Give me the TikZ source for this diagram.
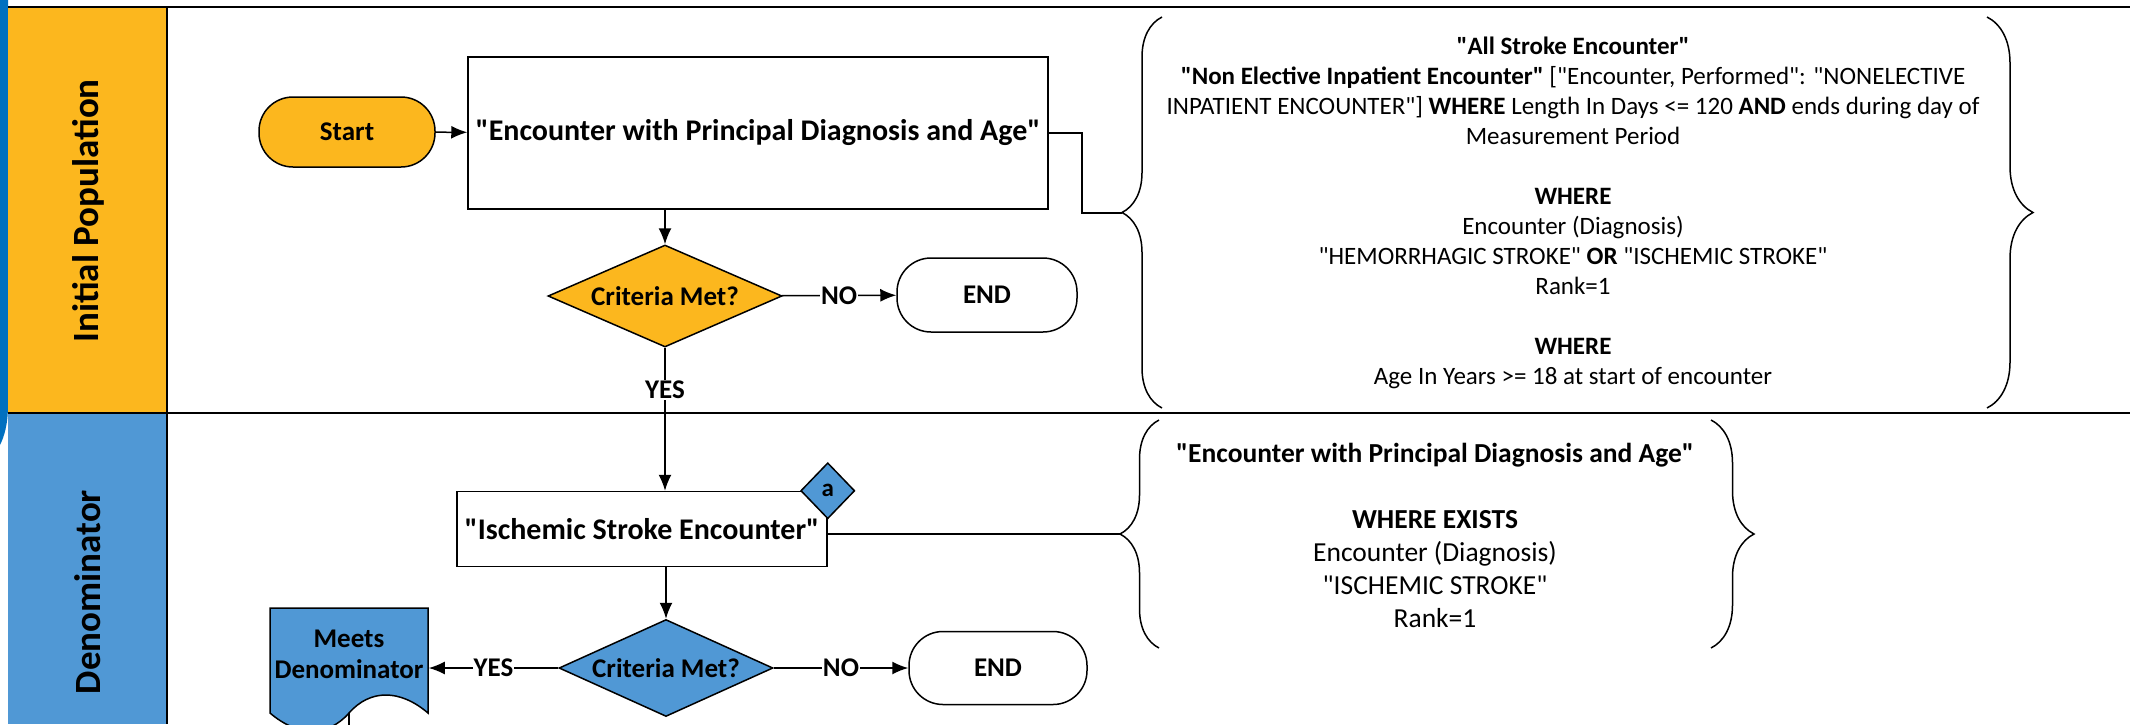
\documentclass[tikz,border=0pt]{standalone}
\usepackage{fontspec}
\setmainfont{Carlito}[Ligatures=TeXOff]
\usepackage{tikz}
\usetikzlibrary{shapes.geometric,decorations.pathreplacing,arrows.meta}
\definecolor{ipOrange}{RGB}{252,183,30}
\definecolor{denBlue}{RGB}{80,152,213}
\definecolor{barBlue}{RGB}{0,112,192}
\tikzset{
  frame/.style={line width=1.5pt},
  lane/.style={font=\bfseries\fontsize{37}{42}\selectfont},
  flow/.style={draw, line width=1.5pt, font=\bfseries\fontsize{27}{31}\selectfont},
  terminal/.style={flow, rounded corners=34pt, minimum width=176pt, minimum height=70pt},
  process/.style={flow, fill=white, inner sep=0pt, font=\bfseries\fontsize{30}{34}\selectfont},
  decision/.style={flow, diamond, aspect=2.3, inner sep=0pt},
  tag/.style={flow, diamond, fill=denBlue, inner sep=0pt, minimum width=54pt, minimum height=56pt, font=\bfseries\fontsize{25}{28}\selectfont},
  arrowlabel/.style={fill=white, inner sep=1pt, font=\bfseries\fontsize{27}{31}\selectfont},
  curly/.style={line width=1.5pt, decorate, decoration={brace, amplitude=#1}},
  defs/.style={align=center, font=\fontsize{25}{30}\selectfont}
}
\begin{document}
\begin{tikzpicture}[x=1pt,y=-1pt,>={Latex[length=16pt,width=13pt]}]
\useasboundingbox (0,0) rectangle (2130,724);
\clip (0,0) rectangle (2130,724);
\fill[white] (0,0) rectangle (2130,724);
\fill[barBlue] (0,0) -- (8,0) -- (8,405) .. controls (8,425) and (4,437) .. (0,445) -- cycle;
\fill[ipOrange] (8,7) rectangle (167,413);
\fill[denBlue] (8,413) rectangle (167,724);
\draw[frame] (8,7) -- (2130,7);
\draw[frame] (8,413) -- (2130,413);
\draw[frame] (167,7) -- (167,724);
\node[lane,rotate=90] (iplabel) at (88,211) {Initial Population};
\node[lane,rotate=90] (denlabel) at (88,592) {Denominator};

\node[terminal, fill=ipOrange] (start) at (347,132) {Start};
\node[process, minimum width=580pt, minimum height=152pt] (enc) at (758,133) {"Encounter with Principal Diagnosis and Age"};
\node[decision, fill=ipOrange, minimum width=234pt, minimum height=102pt] (crit1) at (665,296) {Criteria Met?};
\node[terminal, fill=white, minimum width=180pt, minimum height=74pt] (end1) at (987,295) {END};
\node[arrowlabel] (yes1) at (665,390) {YES};
\draw[frame,->] (start) -- (enc);
\draw[frame,->] (enc.south -| crit1) -- (crit1);
\draw[frame,->] (crit1) -- node[arrowlabel] (no1) {NO} (end1);
\draw[frame] (crit1) -- (yes1);

\node[process, minimum width=370pt, minimum height=75pt] (isch) at (642,529) {"Ischemic Stroke Encounter"};
\node[tag] (taga) at (isch.north east) {a};
\node[decision, fill=denBlue, aspect=2.2, minimum width=214pt, minimum height=97pt] (crit2) at (666,668) {Criteria Met?};
\node[terminal, fill=white, minimum width=178pt, minimum height=73pt] (end2) at (998,668) {END};
\filldraw[frame, fill=denBlue] (270,713) -- (270,608) -- (428,608) -- (428,713) .. controls (400,689) and (370,689) .. (349,713) .. controls (328,737) and (298,737) .. (270,713) -- cycle;
\node[flow, draw=none, align=center, inner sep=0pt, minimum width=158pt] (meets) at (349,654) {Meets\\Denominator};
\coordinate (down) at (349,740);
\draw[frame] (349,713) -- (down);
\draw[frame,->] (yes1) -- (yes1 |- isch.north);
\draw[frame,->] (isch.south -| crit2) -- (crit2);
\draw[frame,->] (crit2) -- node[arrowlabel] (no2) {NO} (end2);
\draw[frame,->] (crit2) -- node[arrowlabel] (yes2) {YES} (meets.east |- crit2);

\coordinate (tip1) at (1122,213);
\coordinate (tip2) at (1120,534);
\draw[curly=40pt] (1162,408) -- (1162,17);
\draw[curly=46pt] (1987,17) -- (1987,408);
\draw[curly=39pt] (1159,648) -- (1159,420);
\draw[curly=43pt] (1711,420) -- (1711,648);
\draw[frame] (enc.east) -- ++(33,0) |- (tip1);
\draw[frame] (isch.east |- tip2) -- (tip2);

\node[defs] (ipdef) at (1573,213) {\textbf{"All Stroke Encounter"}\\
\textbf{"Non Elective Inpatient Encounter"} ["Encounter, Performed": "NONELECTIVE\\
INPATIENT ENCOUNTER"] \textbf{WHERE} Length In Days <= 120 \textbf{AND} ends during day of\\
Measurement Period\\[30pt]
\textbf{WHERE}\\
Encounter (Diagnosis)\\
"HEMORRHAGIC STROKE" \textbf{OR} "ISCHEMIC STROKE"\\
Rank=1\\[30pt]
\textbf{WHERE}\\
Age In Years >= 18 at start of encounter};
\node[defs, font=\fontsize{27.5}{33}\selectfont] (dendef) at (1435,535) {\textbf{"Encounter with Principal Diagnosis and Age"}\\[33pt]
\textbf{WHERE EXISTS}\\
Encounter (Diagnosis)\\
"ISCHEMIC STROKE"\\
Rank=1};
\end{tikzpicture}
\end{document}
